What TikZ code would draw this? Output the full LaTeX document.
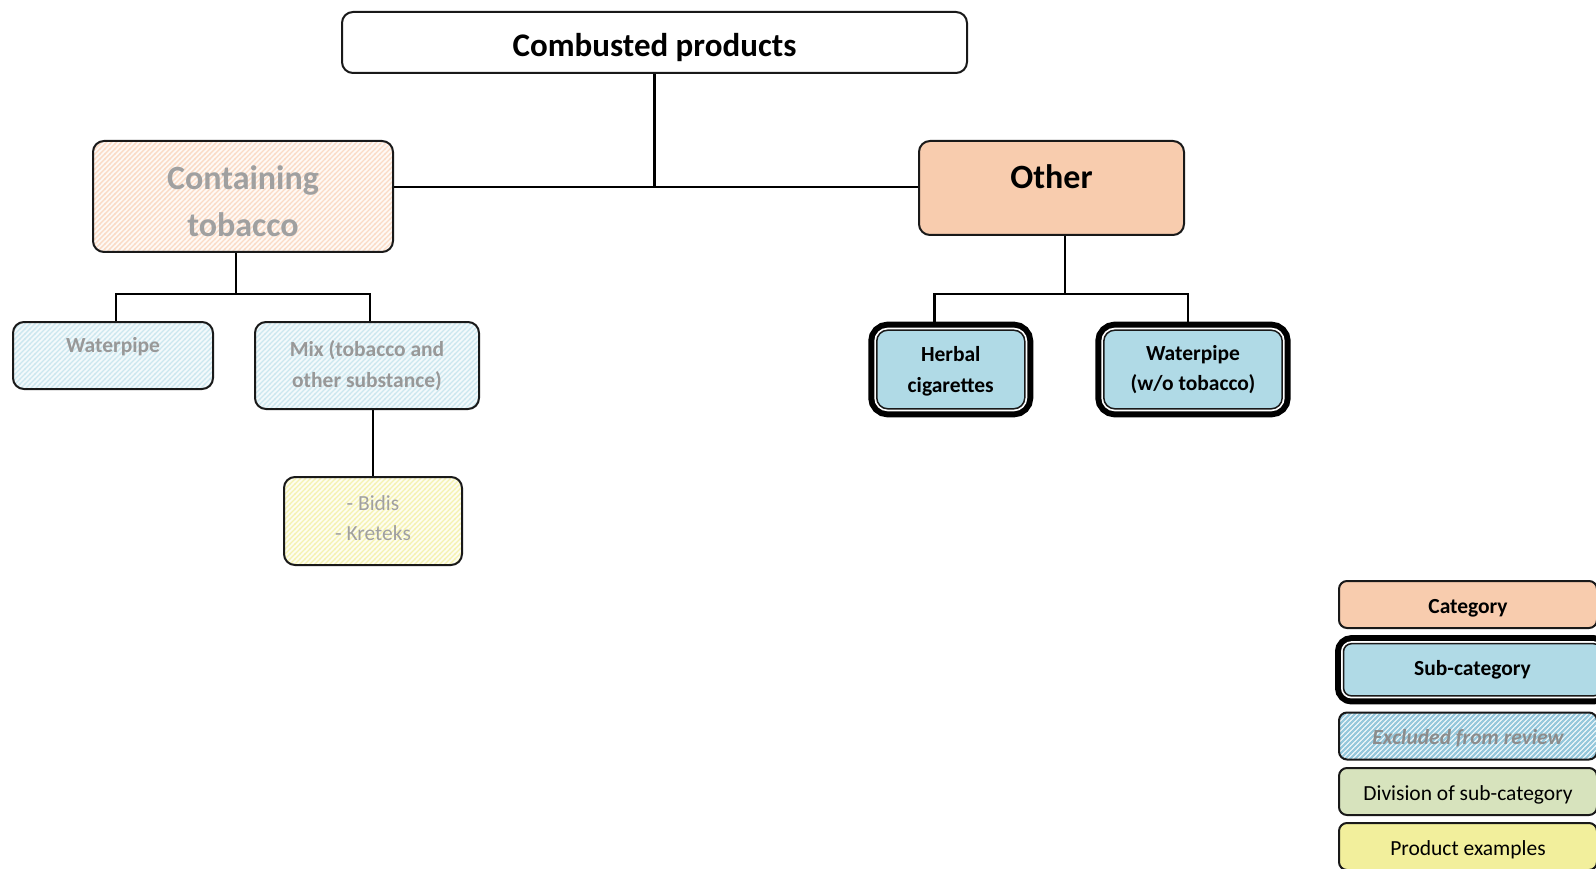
\documentclass[tikz,border=0pt]{standalone}
\usepackage{fontspec}
\setmainfont{Carlito}
\usetikzlibrary{patterns,backgrounds}

\definecolor{peach}{RGB}{248,204,174}
\definecolor{subblue}{RGB}{176,218,230}
\definecolor{divgreen}{RGB}{215,227,189}
\definecolor{prodyellow}{RGB}{242,239,156}
\definecolor{hatchblue}{RGB}{150,200,220}
\definecolor{greytext}{RGB}{160,160,160}
\definecolor{boxline}{RGB}{25,25,25}

\pgfdeclarepatternformonly{hatchthin}{\pgfqpoint{-1pt}{-1pt}}{\pgfqpoint{6pt}{6pt}}{\pgfqpoint{5pt}{5pt}}{%
  \pgfsetlinewidth{1.4pt}%
  \pgfpathmoveto{\pgfqpoint{-0.5pt}{-0.5pt}}%
  \pgfpathlineto{\pgfqpoint{5.5pt}{5.5pt}}%
  \pgfusepath{stroke}}
\pgfdeclarepatternformonly{hatchthick}{\pgfqpoint{-1pt}{-1pt}}{\pgfqpoint{6pt}{6pt}}{\pgfqpoint{5pt}{5pt}}{%
  \pgfsetlinewidth{2.2pt}%
  \pgfpathmoveto{\pgfqpoint{-0.5pt}{-0.5pt}}%
  \pgfpathlineto{\pgfqpoint{5.5pt}{5.5pt}}%
  \pgfusepath{stroke}}

\tikzset{
  box/.style={draw=boxline, line width=2pt, rounded corners=11pt, align=center, inner sep=0pt},
  topbox/.style={box, fill=white, minimum width=625pt, minimum height=61pt,
    font=\fontsize{33}{40}\selectfont\bfseries},
  catbox/.style={box, fill=peach, font=\fontsize{34}{47}\selectfont\bfseries},
  excat/.style={box, preaction={fill=peach!12}, pattern=hatchthin, pattern color=peach!70,
    text=greytext, font=\fontsize{34}{47}\selectfont\bfseries},
  exsub/.style={box, preaction={fill=subblue!15}, pattern=hatchthin, pattern color=subblue!65,
    text=greytext!95!black, font=\fontsize{21.5}{30.5}\selectfont\bfseries},
  exprod/.style={box, preaction={fill=prodyellow!15}, pattern=hatchthin, pattern color=prodyellow!80,
    text=greytext, font=\fontsize{21.5}{30.5}\selectfont},
  subbox/.style={box, fill=subblue, line width=1.5pt,
    preaction={draw=black, line width=17pt},
    preaction={draw=white, line width=5pt},
    font=\fontsize{21.5}{30.5}\selectfont\bfseries},
  legend/.style={minimum width=258pt, minimum height=47pt, rounded corners=8pt,
    font=\fontsize{21.5}{30.5}\selectfont, text height=17pt, text depth=0pt},
  conn/.style={draw=black, line width=2.6pt},
}

\begin{document}
\begin{tikzpicture}[x=1pt,y=-1pt]
\useasboundingbox (0,0) rectangle (1596,869);
\clip (0,0) rectangle (1596,869);

% nodes
\node[topbox, text height=28pt, text depth=0pt] (comb) at (654.5,42.5) {Combusted products};
\node[excat, minimum width=300pt, minimum height=111pt, text height=79.6pt, text depth=0pt] (cont) at (243,196.5) {Containing\\tobacco};
\node[catbox, minimum width=265pt, minimum height=94pt, text depth=23pt] (other) at (1051.5,188) {Other};

\node[exsub, minimum width=200pt, minimum height=67pt, text depth=21pt] (wp) at (113,355.5) {Waterpipe};
\node[exsub, minimum width=224pt, minimum height=87pt] (mix) at (367,365.5) {Mix (tobacco and\\other substance)};
\node[exprod, minimum width=178pt, minimum height=88pt, text height=45.7pt, text depth=6pt] (bidis) at (373,521) {- Bidis\\- Kreteks};

\node[subbox, minimum width=148pt, minimum height=78.6pt, text height=45.5pt, text depth=0pt] (herbal) at (950.75,369.5) {Herbal\\cigarettes};
\node[subbox, minimum width=178.4pt, minimum height=78.6pt] (wpo) at (1193,369.5) {Waterpipe\\(w/o tobacco)};

% legend
\node[box, fill=peach, legend, font=\fontsize{21.5}{30.5}\selectfont\bfseries] (lcat) at (1468,604.5) {Category};
\node[subbox, minimum width=258pt, minimum height=52.2pt, rounded corners=8pt] (lsub) at (1472.5,669.8) {Sub-category};
\node[box, legend, preaction={fill=white}, pattern=hatchthick, pattern color=hatchblue,
  text=black!45, font=\fontsize{21.5}{30.5}\selectfont\bfseries\itshape] (lexc) at (1468,736) {Excluded from review};
\node[box, legend, fill=divgreen] (ldiv) at (1468,791.5) {Division of sub-category};
\node[box, legend, fill=prodyellow] (lprod) at (1468,846.5) {Product examples};

% connectors
\begin{pgfonlayer}{background}
\fill[white] (0,0) rectangle (1596,869);
\coordinate (j1) at (654.5,187);
\coordinate (j2) at (236,294);
\coordinate (j3) at (1065,294);
\draw[conn] (comb.south) -- (j1);
\draw[conn] (cont.east |- j1) -- (other.west |- j1);
\draw[conn] (cont.south -| j2) -- (j2);
\draw[conn] ([xshift=3pt]wp.north) |- (j2) -| ([xshift=3pt]mix.north);
\draw[conn] (bidis.north |- mix.south) -- (bidis.north);
\draw[conn] (other.south -| j3) -- (j3);
\draw[conn] ([xshift=-16pt]herbal.north) |- (j3) -| ([xshift=-5pt]wpo.north);
\end{pgfonlayer}
\end{tikzpicture}
\end{document}
